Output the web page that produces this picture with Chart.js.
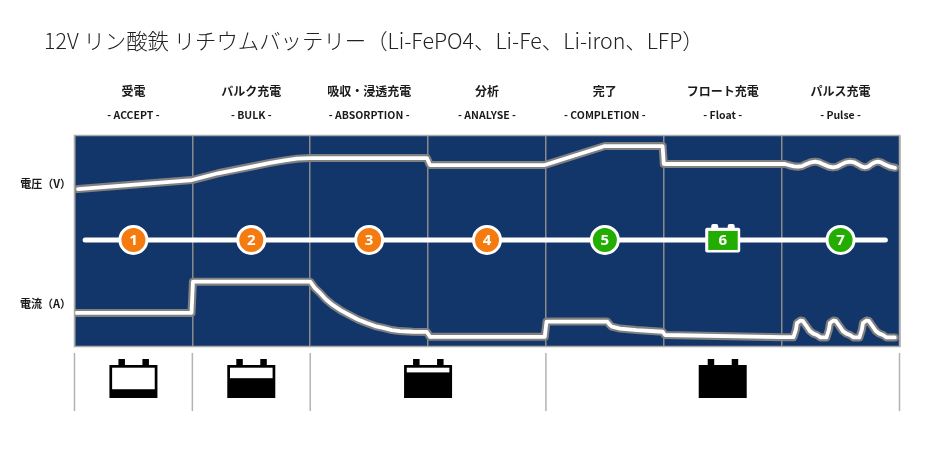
<!DOCTYPE html>
<html lang="ja">
<head>
<meta charset="utf-8">
<title>12V リン酸鉄 リチウムバッテリー</title>
<script src="https://cdn.jsdelivr.net/npm/chart.js@4"></script>
<style>
  html, body { margin: 0; padding: 0; background: #fff; }
  #wrap { position: relative; width: 940px; height: 453px; overflow: hidden; }
  h1 {
    position: absolute; left: 44px; top: 25px; margin: 0;
    font: 300 21.4px/30px "Noto Sans CJK JP", sans-serif; color: #222; white-space: nowrap;
  }
  canvas { display: block; }
</style>
</head>
<body>
<div id="wrap">
  <h1>12V リン酸鉄 リチウムバッテリー（Li-FePO4、Li-Fe、Li-iron、LFP）</h1>
  <canvas id="chart" width="940" height="453"></canvas>
</div>
<script>
// 充電ステージ (x軸は 0〜7 のステージ単位、y軸はパネル高さに対する %)
const stageNames = ['受電', 'バルク充電', '吸収・浸透充電', '分析', '完了', 'フロート充電', 'パルス充電'];
const stageCodes = ['- ACCEPT -', '- BULK -', '- ABSORPTION -', '- ANALYSE -', '- COMPLETION -', '- Float -', '- Pulse -'];
const stageCenters = [0.5, 1.5, 2.5, 3.5, 4.5, 5.5, 6.5];
const stageNumbers = ['1', '2', '3', '4', '5', '6', '7'];
const stageColors = ['#f47b10', '#f47b10', '#f47b10', '#f47b10', '#22ad00', '#22ad00', '#22ad00'];
const axisLabels = ['電圧（V）', '電流（A）'];
const axisLabelValues = [77, 20.1];

const voltageX = [0.03, 0.997, 1.218, 1.506, 1.659, 1.786, 1.888, 1.998, 2.99, 3.016, 3.99, 4.5, 4.99, 5.0, 6.0,
  6.028, 6.071, 6.105, 6.139, 6.173, 6.207, 6.249, 6.283, 6.317, 6.359, 6.402, 6.436, 6.47, 6.503, 6.546,
  6.58, 6.614, 6.648, 6.682, 6.707, 6.733, 6.758, 6.792, 6.817, 6.843, 6.877, 6.919, 6.962];
const voltageY = [74.6, 78.9, 82.1, 85.3, 87.0, 88.2, 89.0, 89.3, 89.3, 86.0, 86.0, 95.0, 95.0, 86.5, 86.5,
  86.5, 85.8, 85.4, 85.2, 85.5, 86.4, 87.3, 87.6, 87.3, 86.2, 85.2, 84.9, 85.2, 86.2, 87.3,
  87.6, 87.3, 86.3, 85.2, 84.9, 85.2, 86.3, 87.3, 87.6, 87.3, 86.2, 85.2, 84.7];

const currentX = [0.013, 0.993, 1.005, 2.0, 2.04, 2.083, 2.134, 2.19, 2.26, 2.34, 2.405, 2.48, 2.55, 2.62, 2.694, 2.76, 2.87, 2.99,
  3.016, 3.99, 4.005, 4.52, 4.54, 4.56, 4.63, 4.77, 4.99, 5.01, 6.0,
  6.1, 6.12, 6.13, 6.16, 6.18, 6.21, 6.24, 6.27, 6.3, 6.33, 6.38,
  6.4, 6.41, 6.44, 6.46, 6.49, 6.52, 6.55, 6.58, 6.61, 6.66,
  6.68, 6.69, 6.72, 6.74, 6.77, 6.8, 6.83, 6.86, 6.89, 6.96];
const currentY = [15.9, 15.9, 30.7, 30.7, 27.7, 25.4, 22.3, 19.7, 17.1, 14.7, 12.8, 11.1, 9.7, 8.8, 7.8, 7.3, 7.0, 6.9,
  4.6, 4.6, 11.8, 11.8, 10.4, 9.4, 8.5, 7.8, 7.0, 5.45, 4.4,
  4.4, 7.8, 11.1, 12.3, 12.1, 9.7, 7.3, 6.1, 5.45, 4.3, 4.3,
  7.8, 11.1, 12.3, 12.1, 9.7, 7.3, 6.1, 5.45, 4.3, 4.3,
  7.8, 11.1, 12.3, 12.1, 9.7, 7.3, 6.1, 5.45, 4.3, 4.3];

const timelineX = [0.09, 6.88];
const timelineY = [50.5, 50.5];

// 下段のバッテリーアイコン
const batteryStages = [0.5, 1.5, 3, 5.5];
const batteryCharge = [0.22, 0.62, 0.83, 1];
const dividerStages = [0, 1, 2, 4, 7];

function toPoints(xs, ys) {
  return xs.map((x, i) => ({ x: x, y: ys[i] }));
}

function curveDataset(xs, ys, color, width, order) {
  return {
    data: toPoints(xs, ys),
    showLine: true,
    borderColor: color,
    borderWidth: width,
    borderCapStyle: 'round',
    borderJoinStyle: 'round',
    tension: 0,
    pointRadius: 0,
    order: order
  };
}

function drawBattery(ctx, cx, top, charge) {
  const w = 48, h = 33;
  const left = cx - w / 2;
  ctx.fillStyle = '#000';
  ctx.fillRect(left + 9, top - 6, 6.5, 6.5);
  ctx.fillRect(left + 33, top - 6, 6.5, 6.5);
  ctx.fillRect(left, top, w, h);
  const innerH = h - 5.4;
  if (charge < 1) {
    ctx.fillStyle = '#fff';
    ctx.fillRect(left + 2.7, top + 2.7, w - 5.4, innerH * (1 - charge));
  }
}

function drawSmallBattery(ctx, cx, cy, color) {
  ctx.fillStyle = '#fff';
  ctx.beginPath();
  ctx.roundRect(cx - 17.5, cy - 12.2, 35, 24.7, 2);
  ctx.fill();
  ctx.beginPath();
  ctx.roundRect(cx - 11.5, cy - 16, 7, 8, 2);
  ctx.roundRect(cx + 5, cy - 16, 7, 8, 2);
  ctx.fill();
  ctx.fillStyle = color;
  ctx.fillRect(cx - 14.5, cy - 9, 29.5, 19);
}

const panelPlugin = {
  id: 'panel',
  beforeDraw(chart) {
    const a = chart.chartArea;
    chart.ctx.fillStyle = '#13366a';
    chart.ctx.fillRect(a.left, a.top, a.right - a.left, a.bottom - a.top);
  },
  afterDraw(chart) {
    const ctx = chart.ctx;
    const a = chart.chartArea;
    const xScale = chart.scales.x;

    // パネルの枠
    ctx.strokeStyle = '#a9a9a9';
    ctx.lineWidth = 1.5;
    ctx.strokeRect(a.left, a.top, a.right - a.left, a.bottom - a.top);

    // 番号マーカーの数字
    const markers = chart.getDatasetMeta(0).data;
    drawSmallBattery(ctx, markers[5].x, markers[5].y, stageColors[5]);
    ctx.fillStyle = '#fff';
    ctx.font = 'bold 15px "Open Sans", sans-serif';
    ctx.textAlign = 'center';
    ctx.textBaseline = 'middle';
    markers.forEach((p, i) => ctx.fillText(stageNumbers[i], p.x, p.y + 0.5));

    // 下段の区切り線
    ctx.strokeStyle = '#b3b3b3';
    ctx.lineWidth = 1.5;
    dividerStages.forEach(s => {
      const x = xScale.getPixelForValue(s);
      ctx.beginPath();
      ctx.moveTo(x, 353);
      ctx.lineTo(x, 411);
      ctx.stroke();
    });

    batteryStages.forEach((s, i) => {
      drawBattery(ctx, xScale.getPixelForValue(s), 365, batteryCharge[i]);
    });
  }
};

new Chart(document.getElementById('chart'), {
  type: 'scatter',
  plugins: [panelPlugin],
  data: {
    datasets: [
      {
        data: toPoints(stageCenters, stageCenters.map(() => timelineY[0])),
        pointRadius: stageNumbers.map(n => n === '6' ? 0 : 13.5),
        pointBackgroundColor: stageColors,
        pointBorderColor: '#fff',
        pointBorderWidth: 3,
        order: 0
      },
      {
        data: toPoints(timelineX, timelineY),
        showLine: true,
        borderColor: '#fff',
        borderWidth: 5,
        borderCapStyle: 'round',
        pointRadius: 0,
        order: 1
      },
      curveDataset(voltageX, voltageY, '#fff', 3.8, 2),
      curveDataset(voltageX, voltageY, '#808080', 8, 3),
      curveDataset(currentX, currentY, '#fff', 3.8, 2),
      curveDataset(currentX, currentY, '#808080', 8, 3)
    ]
  },
  options: {
    responsive: false,
    animation: false,
    events: [],
    layout: { padding: { left: 0, top: 60, right: 40.5, bottom: 106.5 } },
    plugins: {
      legend: { display: false },
      tooltip: { enabled: false }
    },
    scales: {
      x: {
        type: 'linear',
        min: 0,
        max: 7,
        border: { display: false },
        grid: { color: '#8a8a8a', lineWidth: 1.5, drawTicks: false },
        ticks: { display: false, stepSize: 1 },
        afterFit(scale) { scale.height = 0; }
      },
      code: {
        type: 'linear',
        position: 'top',
        axis: 'x',
        weight: 0,
        min: 0,
        max: 7,
        border: { display: false },
        grid: { display: false, drawTicks: false },
        afterBuildTicks(scale) { scale.ticks = stageCenters.map(v => ({ value: v })); },
        afterFit(scale) { scale.height = 35; },
        ticks: {
          autoSkip: false,
          maxRotation: 0,
          padding: 14,
          color: '#1a1a1a',
          font: { family: '"Noto Sans CJK JP", sans-serif', size: 10.5, weight: 'bold' },
          callback: (v, i) => stageCodes[i]
        }
      },
      stage: {
        type: 'linear',
        position: 'top',
        axis: 'x',
        weight: 1,
        min: 0,
        max: 7,
        border: { display: false },
        grid: { display: false, drawTicks: false },
        afterBuildTicks(scale) { scale.ticks = stageCenters.map(v => ({ value: v })); },
        afterFit(scale) { scale.height = 40.5; },
        ticks: {
          autoSkip: false,
          maxRotation: 0,
          padding: 2,
          color: '#1a1a1a',
          font: { family: '"Noto Sans CJK JP", sans-serif', size: 12, weight: 'bold' },
          callback: (v, i) => stageNames[i]
        }
      },
      y: {
        min: 0,
        max: 100,
        border: { display: false },
        grid: { display: false, drawTicks: false },
        afterBuildTicks(scale) { scale.ticks = axisLabelValues.map(v => ({ value: v })); },
        afterFit(scale) { scale.width = 74.5; },
        ticks: {
          padding: 3.5,
          color: '#1a1a1a',
          font: { family: '"Noto Sans CJK JP", sans-serif', size: 11, weight: 'bold' },
          callback: (v, i) => axisLabels[i]
        }
      }
    }
  }
});
</script>
</body>
</html>
